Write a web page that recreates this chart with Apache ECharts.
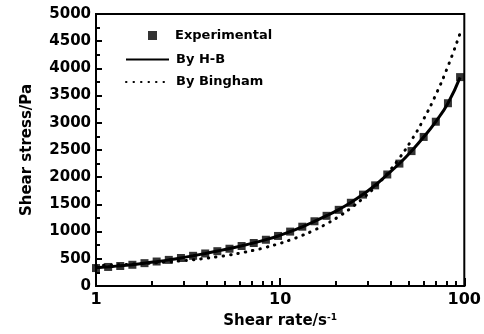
<!DOCTYPE html>
<html>
<head>
<meta charset="utf-8">
<script src="https://cdn.jsdelivr.net/npm/echarts@6/dist/echarts.min.js"></script>
<style>html,body{margin:0;padding:0;background:#fff}#c{width:484px;height:334px}</style>
</head>
<body>
<div id="c"></div>
<script>
// Shear rate (1/s)
var shearRate = [1.00, 1.164, 1.354, 1.576, 1.834, 2.135, 2.485, 2.893, 3.367, 3.918, 4.560, 5.307, 6.177, 7.189, 8.368, 9.739, 11.33, 13.19, 15.36, 17.87, 20.80, 24.21, 28.18, 32.79, 38.17, 44.42, 51.70, 60.17, 70.03, 81.51, 94.86];
// Experimental shear stress (Pa)
var experimental = [330, 350, 368, 390, 420, 450, 480, 515, 555, 598, 640, 685, 735, 790, 850, 920, 1000, 1090, 1190, 1290, 1400, 1530, 1680, 1850, 2050, 2250, 2480, 2740, 3020, 3360, 3840];
// H-B fit (Pa)
var fitHB = [335, 352, 370, 392, 418, 448, 480, 516, 556, 598, 642, 688, 738, 792, 852, 920, 998, 1088, 1188, 1292, 1405, 1535, 1685, 1852, 2048, 2252, 2482, 2738, 3022, 3360, 3835];
// Bingham fit (Pa)
var fitBingham = [376, 383, 392, 402, 413, 427, 443, 462, 483, 508, 537, 571, 611, 657, 711, 773, 846, 930, 1029, 1143, 1276, 1432, 1612, 1822, 2067, 2351, 2682, 3068, 3516, 4039, 4646];
var seriesNames = ['Experimental', 'By H-B', 'By Bingham'];
var xMinorTicks = [2, 3, 4, 5, 6, 7, 8, 9, 20, 30, 40, 50, 60, 70, 80, 90];

function pairs(xs, ys) { return xs.map(function (x, i) { return [x, ys[i]]; }); }

var FONT = 'DejaVu Sans';
var legendText = { fontFamily: FONT, fontWeight: 'bold', fontSize: 13, color: '#000' };
var chart = echarts.init(document.getElementById('c'), null, { renderer: 'canvas' });
chart.setOption({
  animation: false,
  backgroundColor: '#fff',
  textStyle: { fontFamily: FONT },
  grid: { left: 96, right: 15, top: 14, bottom: 47, show: true, borderColor: '#000', borderWidth: 2, backgroundColor: 'transparent' },
  legend: [{
    orient: 'vertical', left: 143, top: 24,
    itemWidth: 9, itemHeight: 9,
    data: [{ name: seriesNames[0], icon: 'rect' }],
    textStyle: Object.assign({ padding: [0, 0, 0, 13] }, legendText)
  }, {
    orient: 'vertical', left: 120, top: 48,
    itemWidth: 43, itemHeight: 14, itemGap: 9.5,
    data: [{ name: seriesNames[1], itemStyle: { opacity: 0 } }, { name: seriesNames[2], itemStyle: { opacity: 0 } }],
    textStyle: Object.assign({ padding: [0, 0, 0, 2] }, legendText)
  }],
  xAxis: [{
    type: 'log', logBase: 10, min: 1, max: 100,
    name: 'Shear rate/s{sup|-1}', nameLocation: 'middle', nameGap: 27,
    nameTextStyle: { fontFamily: FONT, fontWeight: 'bold', fontSize: 15, color: '#000',
      rich: { sup: { fontFamily: FONT, fontWeight: 'bold', fontSize: 9, verticalAlign: 'top', padding: [0, 0, 8, 0] } } },
    axisLine: { show: true, lineStyle: { color: '#000', width: 2 } },
    axisTick: { show: true, inside: true, length: 8, lineStyle: { color: '#000', width: 2 } },
    axisLabel: { fontFamily: FONT, fontWeight: 'bold', fontSize: 16, color: '#000', margin: 6 },
    splitLine: { show: false }, minorTick: { show: false }
  }, {
    type: 'log', logBase: 10, min: 1, max: 100, position: 'bottom',
    axisLine: { show: false },
    axisTick: { show: true, inside: true, length: 5, customValues: xMinorTicks, lineStyle: { color: '#000', width: 2 } },
    axisLabel: { show: false }, splitLine: { show: false }
  }],
  yAxis: {
    type: 'value', min: 0, max: 5000, interval: 500,
    name: 'Shear stress/Pa', nameLocation: 'middle', nameGap: 61,
    nameTextStyle: { fontFamily: FONT, fontWeight: 'bold', fontSize: 15, color: '#000' },
    axisLine: { show: true, lineStyle: { color: '#000', width: 2 } },
    axisTick: { show: true, inside: true, length: 6, lineStyle: { color: '#000', width: 2 } },
    minorTick: { show: true, splitNumber: 2, length: 4, lineStyle: { color: '#000', width: 2 } },
    axisLabel: { fontFamily: FONT, fontWeight: 'bold', fontSize: 15, color: '#000', margin: 5,
      formatter: function (v) { return String(v); } },
    splitLine: { show: false }
  },
  series: [{
    name: seriesNames[0], type: 'scatter', symbol: 'rect', symbolSize: 8, z: 5,
    itemStyle: { color: '#000' },
    data: pairs(shearRate, experimental)
  }, {
    name: seriesNames[1], type: 'line', symbol: 'none', smooth: true, z: 3,
    lineStyle: { color: '#000', width: 3 }, itemStyle: { color: '#000' },
    data: pairs(shearRate, fitHB)
  }, {
    name: seriesNames[2], type: 'line', symbol: 'none', smooth: true, z: 2,
    lineStyle: { color: '#000', width: 3, type: [0.5, 7], cap: 'round' }, itemStyle: { color: '#000' },
    data: pairs(shearRate, fitBingham)
  }]
});
</script>
</body>
</html>
